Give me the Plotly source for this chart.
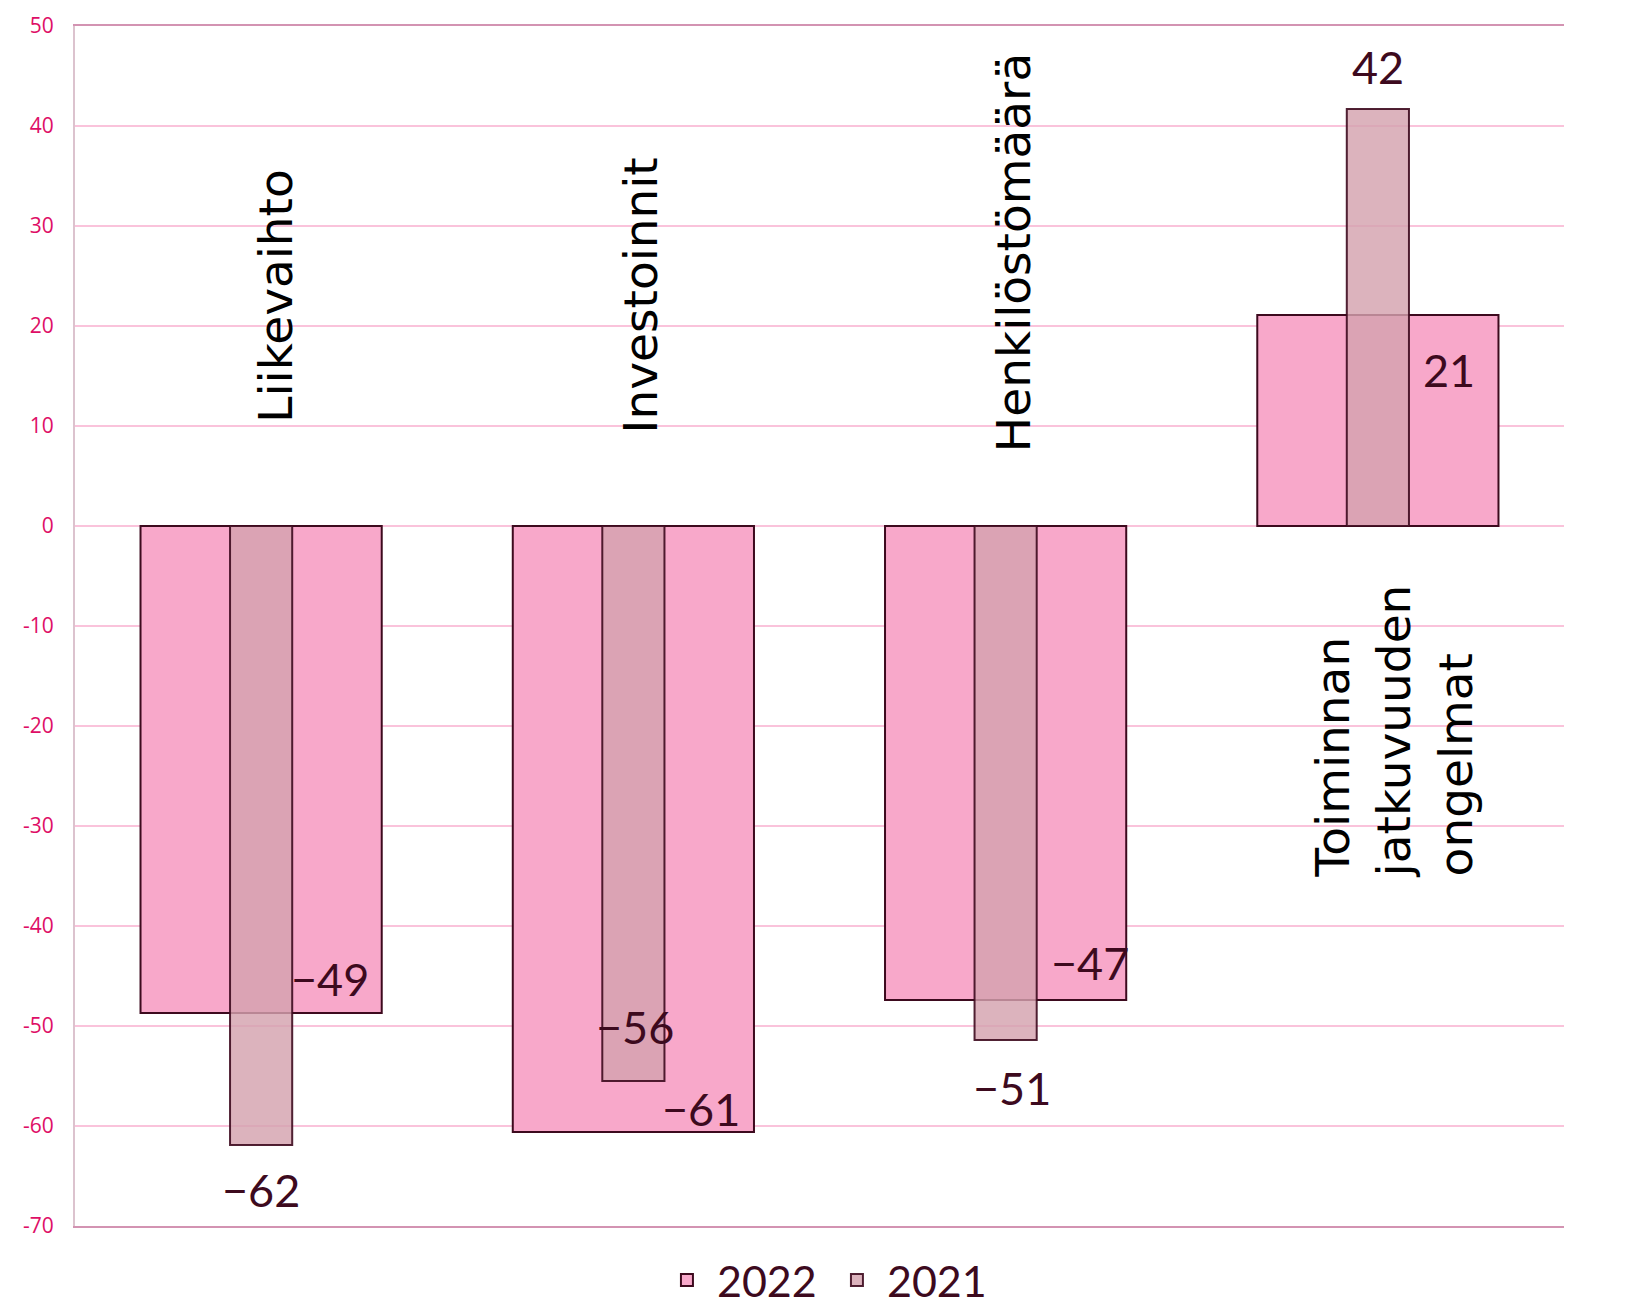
import plotly.graph_objects as go

categories = ["Liikevaihto", "Investoinnit", "Henkilöstömäärä", "Toiminnan<br>jatkuvuuden<br>ongelmat"]
series_names = ["2022", "2021"]
values_2022 = [-48.7, -60.6, -47.4, 21.1]
values_2021 = [-61.9, -55.5, -51.4, 41.7]
y_ticks = [-70, -60, -50, -40, -30, -20, -10, 0, 10, 20, 30, 40, 50]
y_ticktext = [str(v) for v in y_ticks]

# styling / placement (pixel offsets for labels, not data)
lab22_shift = [(69, 34), (68, 23), (84, 37), (71, -55)]
lab21_shift = [(0, -45), (2, 54), (6, -48), (0, 42)]
cat_label_pos = [(14, 10.1, "bottom"), (7, 9.1, "bottom"), (8, 7.2, "bottom"), (16, -5.6, "top")]

DARK = "#3D0A1E"
TICK = "#DE0E66"
FONT = "Lato"
CATFONT = "DejaVu Sans"


def fmt(v):
    r = int(abs(v) + 0.5)
    return ("−" if v < 0 else "") + str(r)


fig = go.Figure()
fig.add_trace(go.Bar(
    x=categories, y=values_2022, name=series_names[0], width=0.648,
    marker=dict(color="#F8A8CA", line=dict(color=DARK, width=2)),
))
fig.add_trace(go.Bar(
    x=categories, y=values_2021, name=series_names[1], width=0.167,
    marker=dict(color="rgba(212,162,174,0.82)", line=dict(color="rgba(61,10,30,0.9)", width=2)),
))

ann = []
for i, c in enumerate(categories):
    ann.append(dict(x=c, y=values_2022[i], text=fmt(values_2022[i]),
                    showarrow=False, xshift=lab22_shift[i][0], yshift=lab22_shift[i][1],
                    font=dict(family=FONT, size=45, color=DARK), xref="x", yref="y"))
    ann.append(dict(x=c, y=values_2021[i], text=fmt(values_2021[i]),
                    showarrow=False, xshift=lab21_shift[i][0], yshift=lab21_shift[i][1],
                    font=dict(family=FONT, size=45, color=DARK), xref="x", yref="y"))
    dx, yy, anc = cat_label_pos[i]
    ann.append(dict(x=c, y=yy, text=c, textangle=-90, showarrow=False, xshift=dx,
                    yanchor=anc, xanchor="center", align="left",
                    font=dict(family=CATFONT, size=47, color="#000000"), xref="x", yref="y"))

fig.update_layout(
    barmode="overlay",
    width=1618, height=1298,
    margin=dict(l=67, r=62, t=18, b=80, autoexpand=False),
    paper_bgcolor="white", plot_bgcolor="white",
    showlegend=True,
    legend=dict(orientation="h", x=0.505, xanchor="center", yref="container", y=0.02,
                yanchor="middle",
                font=dict(family=FONT, size=43, color=DARK), traceorder="normal",
                itemwidth=50, entrywidth=105, entrywidthmode="pixels"),
    xaxis=dict(type="category", range=[-0.5, 3.5], showticklabels=False, ticks="",
               showgrid=False, showline=True, linecolor="#D393B2", linewidth=2, mirror=True,
               zeroline=False, automargin=False),
    yaxis=dict(range=[-70, 50], tickvals=y_ticks, ticktext=y_ticktext,
               showgrid=True, gridcolor="#FAC3DB", gridwidth=2,
               zeroline=False, showline=True, linecolor="#DCC3CE", linewidth=2,
               tickfont=dict(family="Open Sans", size=21, color=TICK), ticks="", ticklen=0,
               ticklabelstandoff=15, automargin=False),
    yaxis2=dict(range=[-70, 50], tickvals=y_ticks, ticktext=y_ticktext,
                overlaying="y", side="right", anchor="x",
                showgrid=False, zeroline=False, showline=True, linecolor="#DCC3CE", linewidth=2,
                tickfont=dict(family="Open Sans", size=21, color=TICK), ticks="",
                ticklabelstandoff=26, automargin=False),
    annotations=ann,
)

fig.write_html("out.html")
